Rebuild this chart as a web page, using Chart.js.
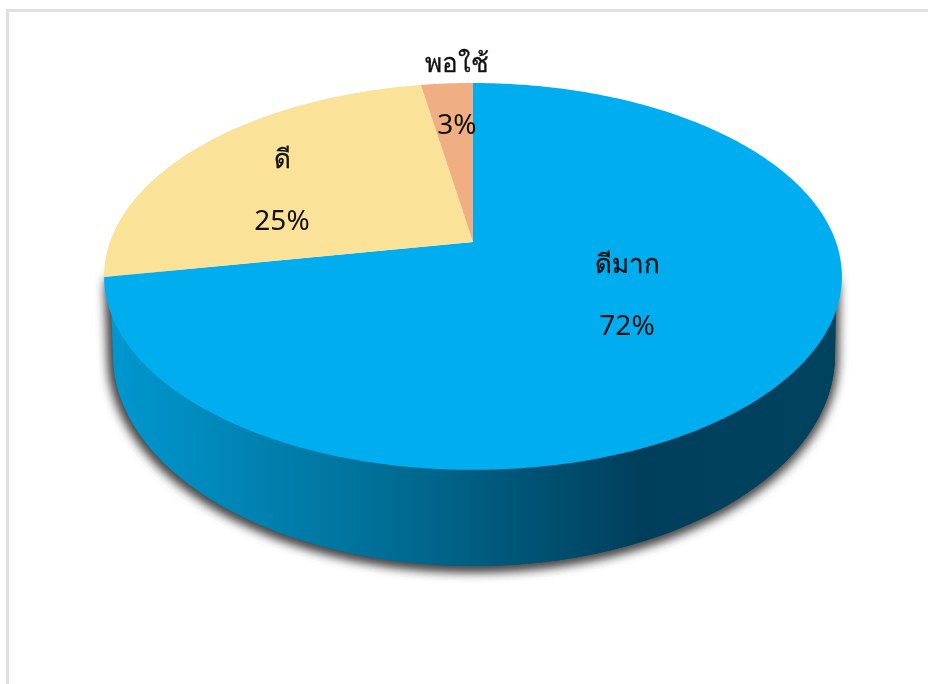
<!DOCTYPE html>
<html lang="th">
<head>
<meta charset="utf-8">
<title>Pie</title>
<script src="https://cdn.jsdelivr.net/npm/chart.js@4"></script>
<style>
  html, body { margin: 0; padding: 0; background: #fff; overflow: hidden; }
  #frame { position: absolute; left: 6px; top: 9px; width: 1000px; height: 800px;
           border-left: 3px solid #e0e0e0; border-top: 3px solid #e0e0e0; }
  #wrap { position: absolute; left: 0; top: 0; width: 928px; height: 684px; }
</style>
</head>
<body>
<div id="frame"></div>
<div id="wrap"><canvas id="pie" width="928" height="684"></canvas></div>
<script>
// values, labels are these rounded
const categories = ['ดีมาก', 'ดี', 'พอใช้'];
const percents = [72.1, 25.2, 2.7];
const sliceColors = ['#00AEEF', '#FBE299', '#F0AF82'];

// tilt of the pie: the circle of radius R is projected on to the page
const SCALE_X = 1.5, SCALE_Y = 0.774, PERSPECTIVE = -0.178;
// rim of the pie, lower outline relative to the pie apex
const RIM = { cx: 1, cy: 113, rx: 361, ry: 211 };
const LABEL_CENTERS = [[627, 296], [282, 191], [457, 95]];
const LABEL_GAP = 30;

function project(arc, angle) {
    const u = Math.cos(angle), v = Math.sin(angle);
    const d = 1 + PERSPECTIVE * v;
    return {
        x: arc.x + arc.outerRadius * SCALE_X * u / d,
        y: arc.y + arc.outerRadius * SCALE_Y * v / d
    };
}

class TiltedArc extends Chart.ArcElement {
    draw(ctx) {
        const steps = Math.max(4, Math.ceil((this.endAngle - this.startAngle) * 90));
        ctx.save();
        ctx.fillStyle = this.options.backgroundColor;
        ctx.beginPath();
        ctx.moveTo(this.x, this.y);
        for (let i = 0; i <= steps; i++) {
            const p = project(this, this.startAngle + (this.endAngle - this.startAngle) * i / steps);
            ctx.lineTo(p.x, p.y);
        }
        ctx.closePath();
        ctx.fill();
        ctx.restore();
    }
}
TiltedArc.id = 'tiltedArc';

class TiltedPie extends Chart.PieController {}
TiltedPie.id = 'tiltedPie';
TiltedPie.defaults = { dataElementType: 'tiltedArc' };

Chart.register(TiltedArc, TiltedPie);

const rimPlugin = {
    id: 'rim',
    beforeDatasetsDraw(chart) {
        const arc = chart.getDatasetMeta(0).data[0];
        const ctx = chart.ctx;
        const cx = arc.x + RIM.cx, cy = arc.y + RIM.cy;
        const grad = ctx.createLinearGradient(cx - RIM.rx, 0, cx + RIM.rx, 0);
        grad.addColorStop(0, '#0097D0');
        grad.addColorStop(0.33, '#00749D');
        grad.addColorStop(0.73, '#003F5C');
        grad.addColorStop(1, '#00435F');
        ctx.save();
        ctx.shadowColor = 'rgba(70,70,70,0.95)';
        ctx.shadowBlur = 13;
        ctx.shadowOffsetX = -1;
        ctx.shadowOffsetY = 2;
        ctx.fillStyle = grad;
        ctx.beginPath();
        ctx.moveTo(arc.x - arc.outerRadius * SCALE_X, arc.y + 36);
        ctx.lineTo(cx - RIM.rx, cy);
        ctx.ellipse(cx, cy, RIM.rx, RIM.ry, 0, Math.PI, 0, true);
        ctx.lineTo(arc.x + arc.outerRadius * SCALE_X, arc.y + 36);
        ctx.closePath();
        // several passes, one leaves the shadow too faint
        ctx.fill();
        ctx.fill();
        ctx.fill();
        ctx.restore();
    }
};

const labelPlugin = {
    id: 'sliceLabels',
    afterDatasetsDraw(chart) {
        const ctx = chart.ctx;
        ctx.save();
        ctx.fillStyle = '#111';
        ctx.strokeStyle = '#111';
        ctx.lineWidth = 0.3;
        ctx.textAlign = 'center';
        ctx.textBaseline = 'middle';
        categories.forEach((name, i) => {
            const [x, y] = LABEL_CENTERS[i];
            ctx.font = '26px "Noto Sans", "Liberation Sans", sans-serif';
            ctx.fillText(name, x, y - LABEL_GAP);
            ctx.strokeText(name, x, y - LABEL_GAP);
            ctx.font = '28px "Noto Sans", "Liberation Sans", sans-serif';
            ctx.fillText(Math.round(percents[i]) + '%', x, y + LABEL_GAP + 1);
        });
        ctx.restore();
    }
};

new Chart(document.getElementById('pie').getContext('2d'), {
    type: 'tiltedPie',
    data: {
        labels: categories,
        datasets: [{ data: percents, backgroundColor: sliceColors, borderWidth: 0 }]
    },
    plugins: [rimPlugin, labelPlugin],
    options: {
        responsive: false,
        animation: false,
        layout: { padding: { left: 18, bottom: 200 } },
        plugins: { legend: { display: false }, tooltip: { enabled: false } }
    }
});
</script>
</body>
</html>
